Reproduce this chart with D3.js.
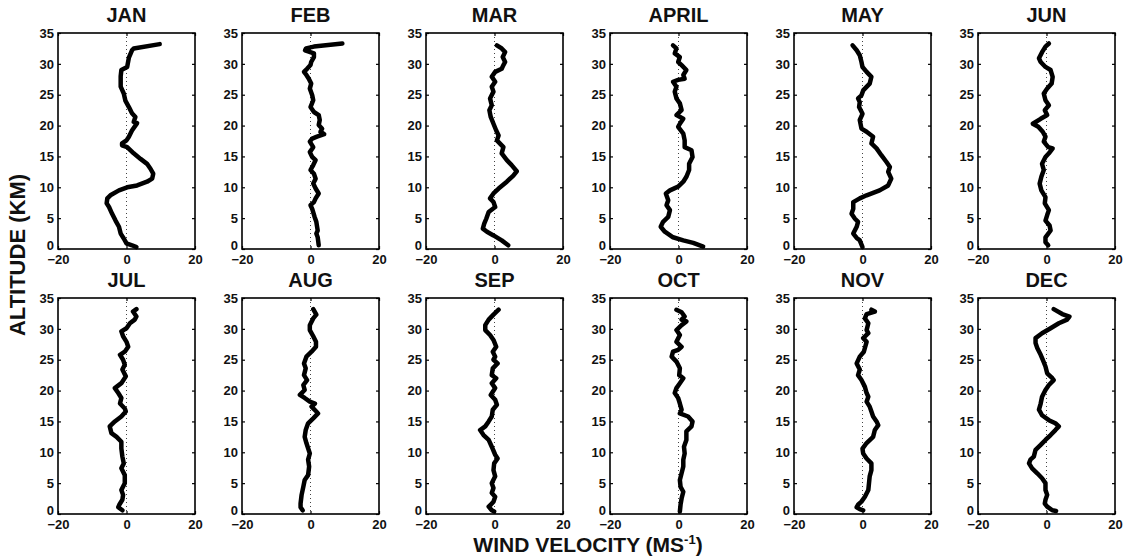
<!DOCTYPE html>
<html>
<head>
<meta charset="utf-8">
<script src="https://cdn.jsdelivr.net/npm/d3@7"></script>
<style>
  body { margin: 0; background: #fff; }
  text { font-family: "Liberation Sans", Arial, sans-serif; font-weight: bold; fill: #111; }
</style>
</head>
<body>
<svg width="1127" height="558"></svg>
<script>
// Month names, one panel each.
var months = ["JAN", "FEB", "MAR", "APRIL", "MAY", "JUN", "JUL", "AUG", "SEP", "OCT", "NOV", "DEC"];

// Tick labels.
var xTicks = [-20, 0, 20];
var yTicks = [0, 5, 10, 15, 20, 25, 30, 35];

// Profiles: [altitude km, wind m/s], from top to bottom.
var jan = [[33.2,9.7],[32.5,2.1],[32.2,1.6],[31,0.7],[29.5,0.2],[29,-1.5],[28,-1.7],[26.3,-1.7],[25.2,-0.8],[24,-0.3],[23,0.7],[22,1.6],[21.4,2.6],[20.6,2.1],[20.4,3.1],[19.2,1.6],[18.2,0.7],[17.6,0],[17.1,-1.3],[16.8,-1.3],[16.5,0.2],[15.5,2.1],[14.6,4.1],[13.8,6],[13,7],[12.2,7.8],[11.4,7.5],[10.9,6],[10.3,3.1],[10,0.2],[9.5,-2.2],[8.7,-4.7],[8.2,-5.6],[7.4,-5.8],[6.8,-5.1],[5.7,-4.2],[4.6,-3.2],[3.6,-2.2],[2.5,-1.7],[1.7,-0.8],[0.9,0],[0.6,1.6],[0.3,2.9]];
var feb = [[33.3,9.3],[32.8,1],[32.5,-1.3],[32.2,-1.6],[32,-0.5],[31.7,1],[31.1,1],[30.3,0.2],[29.8,0],[29.2,-1],[28.7,-1.9],[28.2,-1.2],[27.6,-0.5],[26.8,0.2],[26,-0.2],[24.9,0.5],[24.1,0.8],[23,0],[22.2,1],[21.7,2.4],[20.9,2.7],[20.1,2.4],[19.5,3.4],[19,2.9],[18.6,4],[18.2,1.9],[17.9,0.5],[17.4,-0.2],[16.5,0.8],[15.7,-0.2],[14.9,0.5],[14.4,1.5],[13.6,0.8],[12.8,0],[12.2,1],[11.4,1.5],[10.6,0.8],[9.8,1.5],[9,2.4],[8.2,1.5],[7.6,1],[7.1,0],[6.5,0.5],[5.2,1.2],[4.4,1.7],[3,2.1],[2.5,1.7],[1.9,2.1],[0.6,2.4]];
var mar = [[33,0.7],[32.5,2.1],[31.9,3.1],[31.1,2.4],[30.3,3.1],[29.8,2.6],[29.2,2.1],[28.7,0.2],[27.9,-0.8],[27.1,0.2],[26.3,-0.8],[25.5,-0.3],[24.4,-1.3],[23.3,-0.8],[22.5,-1.5],[21.4,-1.1],[20.3,-0.3],[19.2,0.5],[18.4,1.2],[17.6,0.7],[16.5,2.6],[15.5,2.1],[14.4,3.6],[13.6,5],[12.6,6.5],[11.9,5.5],[10.9,3.6],[9.8,1.2],[9,-0.3],[8.2,-1.3],[7.6,-0.3],[6.8,0.2],[6,-1.7],[4.9,-2.4],[4.1,-3],[3.3,-3.4],[2.8,-2.2],[2.2,-0.3],[1.4,2.1],[0.6,4]];
var apr = [[33,-1.6],[32.5,-0.6],[31.7,-1.1],[31.1,0.4],[30.3,-0.1],[29.8,0.9],[29,2.3],[28.2,1.4],[27.6,1.8],[27.4,-0.1],[27.1,-1.6],[26.3,-0.6],[25.5,-1.1],[24.4,-0.6],[23.6,0.4],[22.5,0.9],[21.7,-0.6],[21.1,1.4],[20.3,0.4],[19.8,-0.1],[18.7,1.4],[17.6,1.8],[16.5,1.8],[16,3.8],[14.9,4.1],[13.8,3.1],[12.8,3.1],[11.7,2.3],[10.9,1.4],[10.1,-0.1],[9.5,-2.5],[9,-3.7],[7.9,-3],[7.1,-3.5],[6.3,-2.5],[5.2,-3],[4.4,-4.5],[3.6,-5.2],[2.8,-4],[1.9,-1.6],[1.4,1.4],[1,4.3],[0.4,7.2]];
var may = [[33,-2.9],[32.2,-1.7],[31.4,-0.8],[30.3,-0.3],[29.5,0],[28.7,1.2],[27.9,2.6],[26.8,2.1],[25.7,0.2],[24.9,-0.3],[24.4,-1.3],[23.8,-0.8],[23,-1],[21.9,0],[20.9,-0.8],[19.5,-0.3],[19,1.2],[18.2,3.1],[17.1,2.6],[16.3,4.1],[15.2,5.5],[14.1,7],[13.3,8],[12.5,7.5],[11.4,8.4],[10.3,7.5],[9.5,5],[8.7,1.2],[8.2,-0.8],[7.6,-2.7],[6.5,-2.7],[5.7,-3.2],[4.9,-2.2],[4.4,-1.3],[3.6,-1.7],[2.5,-2.7],[1.8,-1.7],[1.4,-0.8],[0.3,0]];
var jun = [[33.3,0.7],[32.8,-0.3],[31.9,-1.3],[30.9,-2.2],[30.3,-1.7],[29.5,-0.3],[29,1.2],[27.9,1.8],[26.8,1.5],[26,0.2],[25.2,-0.8],[24.1,-0.3],[23.3,0.7],[22.5,-0.5],[21.7,0.2],[21.1,-1.7],[20.3,-4],[19.8,-2.4],[19,-1.1],[18.2,-0.3],[17.4,-0.8],[16.5,0.5],[16.3,1.8],[15.5,0.7],[14.9,-0.3],[13.8,-1.3],[12.8,-0.8],[11.7,-1.5],[10.6,-2],[9.5,-1.5],[8.4,-0.3],[7.4,-0.5],[6.3,0.7],[5.5,0.2],[4.6,-0.3],[3.8,0.9],[3,1.2],[1.9,-0.3],[1.1,-0.3],[0.6,0.5]];
var jul = [[33.2,2.9],[32.8,1.9],[32,2.9],[31.5,2.4],[30.9,1],[30.1,0],[29.6,-1.5],[28.8,-1],[27.9,0],[27.1,0.5],[26.3,-0.5],[25.8,-1.9],[25,-1],[24.2,-0.5],[23.4,-1.2],[22.3,-0.2],[21.2,-1.5],[20.4,-3.4],[19.6,-2.4],[18.8,-1.5],[17.9,-1.9],[17.1,-0.5],[16.6,-0.2],[15.8,-1.5],[15,-3.4],[14.2,-4.9],[13.1,-4.4],[12.5,-2.9],[11.7,-1.5],[10.6,-1.5],[9.3,-1.2],[8.2,-0.8],[7.4,-1.5],[6.3,-0.5],[5,-0.5],[3.9,-1.5],[3.1,-1],[2.3,-1.2],[1.5,-2.1],[1.1,-2.4],[0.6,-1.2]];
var aug = [[33.2,0.8],[32.3,1.7],[31.7,0.8],[30.6,-0.2],[29.8,-0.2],[28.8,0.8],[27.9,1.6],[27.1,1.6],[26.3,0.3],[25.5,-1.2],[24.4,-1.9],[23.6,-1.4],[22.5,-1.9],[21.7,-1],[20.9,-2.1],[20.1,-1.7],[19.3,-3.1],[18.8,-1.7],[18.2,-0.2],[17.9,1.3],[17.4,0.3],[16.6,1.7],[16.3,2.2],[15.5,0.8],[14.7,-0.7],[13.6,-1.4],[12.5,-1.7],[11.5,-1.2],[9.8,-0.2],[8.8,-0.7],[7.7,-0.4],[6.3,-0.7],[5.5,-1.7],[4.4,-2.1],[3.1,-2.6],[1.7,-2.9],[1.1,-2.9],[0.6,-2.3]];
var sep = [[33.1,1.2],[32.3,-0.3],[31.5,-1.7],[30.6,-2.7],[29.8,-2.7],[29,-1.3],[28.2,-0.3],[27.1,0.5],[26.3,-0.5],[25.5,0.2],[25,-0.3],[24.4,0.9],[23.6,-0.5],[22.5,-0.8],[22,0.5],[21.2,-0.8],[20.4,0.2],[19.8,-0.5],[19.3,-1.1],[18.5,0.2],[17.7,0.7],[16.9,-0.5],[15.8,-0.8],[15,-1.7],[14.2,-2.7],[13.6,-4.2],[12.8,-3.2],[12,-1.7],[10.9,-0.8],[9.6,0.2],[9,0.9],[8.2,-0.1],[7.1,-0.3],[6.1,0.2],[5,-0.8],[4.2,-0.3],[3.4,-0.8],[2.8,0.2],[2,-0.3],[1.5,-1.1],[1.2,-1.7],[0.6,-0.8],[0.4,-0.1]];
var oct = [[33.1,-0.6],[32.7,0.9],[32,1.8],[31.5,0.9],[31.2,2.3],[30.6,0.9],[29.8,-0.6],[29,0.4],[27.9,-0.6],[27.1,0.9],[26.6,-0.1],[26.3,-1.6],[25.5,-2],[24.7,-0.6],[23.6,0.4],[22.5,0.2],[22,1.4],[21.2,0.4],[20.4,-0.6],[19.6,-1.1],[18.8,-0.1],[17.9,0.4],[16.9,0.9],[16.3,0.4],[15.8,2.8],[15,4.1],[14.2,3.8],[13.4,2.3],[12,2.3],[10.9,1.6],[9.8,1.8],[8.8,1.4],[7.7,1.4],[6.6,0.9],[5.5,0.4],[4.4,0.6],[3.6,1.4],[2.5,0.9],[1.5,0.6],[0.4,0.4]];
var nov = [[33.1,2.6],[32.8,3.6],[32.4,1.2],[31.7,0.7],[30.9,1.7],[29.8,1.2],[29.3,1.7],[28.5,0.2],[27.9,1.2],[26.9,0.7],[26.3,0.4],[25.5,-0.8],[24.4,-1.7],[23.4,-0.8],[22.5,-1.3],[21.7,-0.3],[20.6,0.7],[19.6,1.2],[19,1.7],[18.2,1.2],[17.4,2.1],[16.6,2.6],[15.8,3.1],[15,4.1],[14.4,4.6],[13.6,3.6],[12.5,3.1],[11.5,1.2],[10.6,0],[9.8,0.2],[9,1.2],[8.2,2.6],[7.1,2.6],[6.1,2.1],[5,1.9],[3.9,1.7],[2.8,0.7],[2,-0.3],[1.5,-1.3],[1.1,-1.7],[0.8,-0.8],[0.6,0.2]];
var dec = [[33.2,2.1],[32.4,4.6],[32,6.7],[31.5,6],[30.9,3.6],[30.1,1.2],[29.3,-1.3],[28.5,-3.2],[27.7,-3.2],[26.9,-2.7],[25.8,-1.7],[25,-1.1],[23.9,-0.3],[22.8,0.2],[22,1.7],[21.7,2.1],[20.9,0.7],[20.1,-0.3],[19,-1.3],[17.9,-1.7],[16.9,-2.2],[16,-1.3],[15.2,0.7],[14.7,2.6],[14.2,3.6],[13.6,2.6],[12.8,1.2],[12,-0.3],[11.2,-1.7],[10.4,-3.2],[9.3,-3.7],[8.8,-4.7],[8.2,-5.1],[7.4,-4.2],[6.6,-2.7],[5.8,-1.3],[5,-0.3],[3.9,-0.3],[3.1,0.2],[2.3,-0.3],[1.7,-0.5],[1.2,0.2],[0.6,1.7],[0.5,2.8]];

var profiles = [jan, feb, mar, apr, may, jun, jul, aug, sep, oct, nov, dec];

var svg = d3.select("svg");

// Panel layout (6 columns x 2 rows).
var panelW = 137, panelH = 216;
var left0 = 58, colStep = 184;
var rowTops = [33, 298];

var x = d3.scaleLinear().domain([-20, 20]).range([0, panelW]);
var y = d3.scaleLinear().domain([0, 35]).range([panelH, 0]);

var line = d3.line()
	.x(function(d) { return x(d[1]); })
	.y(function(d) { return y(d[0]); });

months.forEach(function(name, i) {
	var col = i % 6, row = Math.floor(i / 6);
	var g = svg.append("g")
		.attr("transform", "translate(" + (left0 + col * colStep) + "," + rowTops[row] + ")");

	// Dotted zero line.
	g.append("line")
		.attr("x1", x(0)).attr("x2", x(0))
		.attr("y1", 0).attr("y2", panelH)
		.attr("stroke", "#444")
		.attr("stroke-width", 1)
		.attr("stroke-dasharray", "1,3");

	// Wind profile.
	g.append("path")
		.datum(profiles[i])
		.attr("d", line)
		.attr("fill", "none")
		.attr("stroke", "#000")
		.attr("stroke-width", 4.5)
		.attr("stroke-linejoin", "round")
		.attr("stroke-linecap", "round");

	// Axes with inward ticks.
	g.append("g")
		.call(d3.axisLeft(y).tickValues(yTicks).tickSize(-3).tickPadding(4))
		.call(function(a) { a.select(".domain").remove(); })
		.selectAll("text").style("font-size", "13px")
		.attr("dy", function(d) { return d === 0 ? "0.03em" : "0.32em"; });
	g.append("g")
		.attr("transform", "translate(" + panelW + ",0)")
		.call(d3.axisRight(y).tickValues(yTicks).tickSize(-3).tickFormat(""))
		.call(function(a) { a.select(".domain").remove(); });
	g.append("g")
		.attr("transform", "translate(0," + panelH + ")")
		.call(d3.axisBottom(x).tickValues(xTicks).tickSize(-3).tickPadding(6))
		.call(function(a) { a.select(".domain").remove(); })
		.selectAll("text").style("font-size", "13px");
	g.append("g")
		.call(d3.axisTop(x).tickValues(xTicks).tickSize(-3).tickFormat(""))
		.call(function(a) { a.select(".domain").remove(); });
	g.selectAll(".tick line").attr("stroke", "#000").attr("stroke-width", 1.2);
	g.selectAll(".tick text").attr("fill", "#111");

	// Panel frame.
	g.append("rect")
		.attr("width", panelW).attr("height", panelH)
		.attr("fill", "none")
		.attr("stroke", "#000")
		.attr("stroke-width", 1.6);

	// Month title.
	g.append("text")
		.attr("x", panelW / 2)
		.attr("y", -11)
		.attr("text-anchor", "middle")
		.style("font-size", "20px")
		.text(name);
});

// Shared axis titles.
svg.append("text")
	.attr("transform", "translate(25,255) rotate(-90)")
	.attr("text-anchor", "middle")
	.style("font-size", "22px")
	.text("ALTITUDE (KM)");

var xt = svg.append("text")
	.attr("x", 588)
	.attr("y", 552)
	.attr("text-anchor", "middle")
	.style("font-size", "21px");
xt.append("tspan").text("WIND VELOCITY (MS");
xt.append("tspan").attr("dy", -8).style("font-size", "13px").text("-1");
xt.append("tspan").attr("dy", 8).text(")");
</script>
</body>
</html>
